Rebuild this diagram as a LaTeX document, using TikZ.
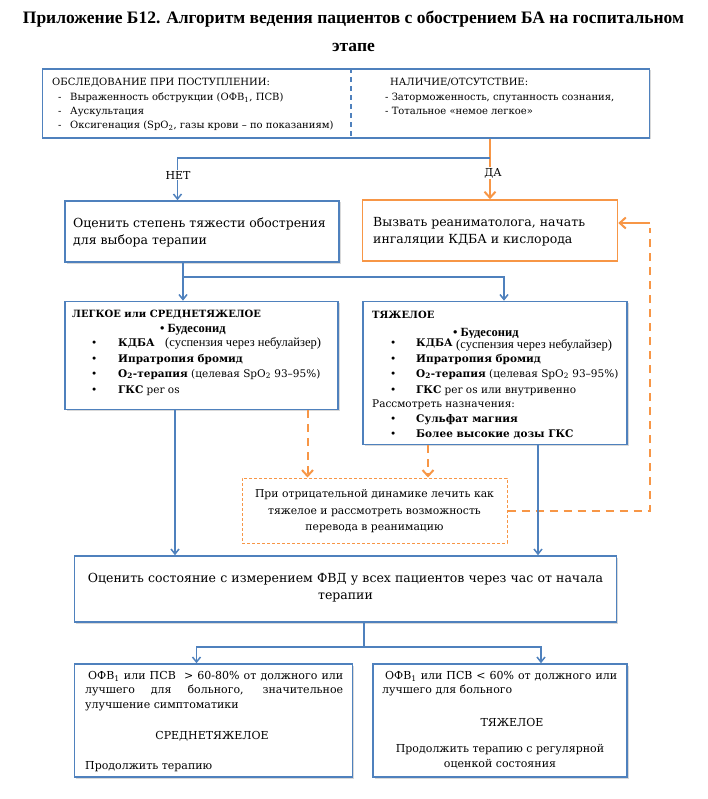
\documentclass[tikz,border=0pt]{standalone}
\usepackage{fontspec}
\setmainfont{DejaVu Serif}
\newfontfamily\timesfont{Liberation Serif}
\usetikzlibrary{arrows.meta,shadows}
\definecolor{boxblue}{RGB}{79,129,189}
\definecolor{boxorange}{RGB}{247,150,70}

\begin{document}
\begin{tikzpicture}[x=1pt,y=-1pt]
  \tikzstyle{box shadow}=[drop shadow={opacity=0.3,shadow xshift=1.5pt,shadow yshift=-1.5pt}]
  \tikzstyle{blue box}=[draw=boxblue,fill=white,line width=1.6pt,inner sep=0pt,box shadow]
  \tikzstyle{orange box}=[draw=boxorange,fill=white,line width=1.6pt,inner sep=0pt]
  \tikzstyle{dashed box}=[draw=boxorange,line width=1pt,dash pattern=on 3pt off 2pt,inner sep=0pt]
  \tikzstyle{blue line}=[draw=boxblue,line width=1.5pt]
  \tikzstyle{blue arrow}=[blue line,-{Straight Barb[length=5pt,width=8pt]}]
  \tikzstyle{orange line}=[draw=boxorange,line width=2pt]
  \tikzstyle{orange arrow}=[orange line,-{Straight Barb[length=6pt,width=11pt]}]
  \tikzstyle{orange dash}=[orange line,dash pattern=on 8pt off 6pt]
  \tikzstyle{small text}=[anchor=base west,inner sep=0pt,font=\fontsize{10}{12}\selectfont]
  \tikzstyle{list text}=[anchor=base west,inner sep=0pt,font=\fontsize{10.5}{13}\selectfont]
  \tikzstyle{box text}=[inner sep=0pt,font=\fontsize{12.5}{17.5}\selectfont]
  \tikzstyle{insert text}=[anchor=base west,inner sep=0pt,font=\timesfont\fontsize{12.5}{14}\selectfont]
  \useasboundingbox (0,0) rectangle (707,799);

  % Titel
  \node[anchor=base,inner sep=0pt,font=\timesfont\bfseries\fontsize{17.5}{20}\selectfont] (title1) at (353.5,24)
    {Приложение Б12. Алгоритм ведения пациентов с обострением БА на госпитальном};
  \node[anchor=base,inner sep=0pt,font=\timesfont\bfseries\fontsize{17.5}{20}\selectfont] (title2) at (353.5,52) {этапе};

  % Obsledovanie
  \node[blue box,minimum width=607pt,minimum height=69pt] (exam) at (346,103.5) {};
  \draw[boxblue,line width=1.2pt,dash pattern=on 5pt off 4pt] (exam.north -| 351,0) -- (exam.south -| 351,0);
  \node[small text] (exam0) at (52,86) {ОБСЛЕДОВАНИЕ ПРИ ПОСТУПЛЕНИИ:};
  \foreach \y/\t in {101/{Выраженность обструкции (ОФВ\textsubscript{1}, ПСВ)},
                     115/{Аускультация},
                     129/{Оксигенация (SpO\textsubscript{2}, газы крови – по показаниям)}}
  {
    \node[small text] (dash\y) at (58,\y) {-};
    \node[small text] (exam\y) at (70,\y) {\t};
  }
  \node[small text] (sign0) at (390,86) {НАЛИЧИЕ/ОТСУТСТВИЕ:};
  \node[small text] (sign1) at (385,101) {- Заторможенность, спутанность сознания,};
  \node[small text] (sign2) at (385,115) {- Тотальное «немое легкое»};

  % Ocenit / Reanimatolog
  \node[blue box,minimum width=274pt,minimum height=61pt] (assess) at (202,231.5) {};
  \node[box text,anchor=west,align=left] (assess text) at (73,232.5)
    {Оценить степень тяжести обострения\\для выбора терапии};
  \node[orange box,minimum width=255pt,minimum height=61pt] (reanim) at (490,230.5) {};
  \node[box text,anchor=west,align=left] (reanim text) at (373,231.5)
    {Вызвать реаниматолога, начать\\ингаляции КДБА и кислорода};

  % DA / NET
  \draw[orange arrow] (exam.south -| reanim.north) -- (reanim.north);
  \node[fill=white,inner sep=1pt,font=\fontsize{11}{13}\selectfont] (yes) at (493,173) {ДА};
  \coordinate (fork) at (490,158);
  \draw[blue arrow] (fork) -| ([xshift=-24.5pt]assess.north);
  \node[fill=white,inner sep=1pt,font=\fontsize{11}{13}\selectfont] (no) at (178,175) {НЕТ};

  % Legkoe / srednetjazheloe
  \node[blue box,minimum width=273pt,minimum height=108pt] (mild) at (201.5,355.5) {};
  \node[list text,font=\bfseries\fontsize{10}{13}\selectfont] (mild0) at (72,317) {ЛЕГКОЕ или СРЕДНЕТЯЖЕЛОЕ};
  \foreach \y/\t in {346/{\bfseries КДБА},
                     362/{\bfseries Ипратропия бромид},
                     377/{\textbf{O\textsubscript{2}-терапия} (целевая SpO\textsubscript{2} 93–95\%)},
                     393/{\textbf{ГКС} per os}}
  {
    \node[list text] (mdot\y) at (91,\y) {•};
    \node[list text] (mild\y) at (118,\y) {\t};
  }
  \node[insert text,font=\timesfont\bfseries\fontsize{12.5}{14}\selectfont] (mbud) at (160,332) {• Будесонид};
  \node[insert text] (msusp) at (165,346) {(суспензия через небулайзер)};

  % Tjazheloe
  \node[blue box,minimum width=264pt,minimum height=143pt] (severe) at (495,373) {};
  \node[list text,font=\bfseries\fontsize{10}{13}\selectfont] (sev0) at (372,318) {ТЯЖЕЛОЕ};
  \foreach \y/\t in {346/{\bfseries КДБА},
                     362/{\bfseries Ипратропия бромид},
                     377/{\textbf{O\textsubscript{2}-терапия} (целевая SpO\textsubscript{2} 93–95\%)},
                     393/{\textbf{ГКС} per os или внутривенно},
                     422/{\bfseries Сульфат магния},
                     437/{\bfseries Более высокие дозы ГКС}}
  {
    \node[list text] (sdot\y) at (390,\y) {•};
    \node[list text] (sev\y) at (416,\y) {\t};
  }
  \node[list text] (sev407) at (372,407) {Рассмотреть назначения:};
  \node[insert text,font=\timesfont\bfseries\fontsize{12.5}{14}\selectfont] (sbud) at (453,336) {• Будесонид};
  \node[insert text,fill=white,inner xsep=2pt,inner ysep=1pt] (ssusp) at (454,348) {(суспензия через небулайзер)};

  % Strelki vniz
  \coordinate (branch) at (183,277);
  \draw[blue arrow] (assess.south -| branch) -- (mild.north -| branch);
  \draw[blue arrow] (branch) -| ([xshift=9pt]severe.north);

  % Otricatelnaja dinamika
  \node[dashed box,minimum width=265pt,minimum height=65pt] (worse) at (374.5,510.5) {};
  \node[box text,align=center,font=\fontsize{10.8}{16.5}\selectfont] (worse text) at (374.5,511.5)
    {При отрицательной динамике лечить как\\тяжелое и рассмотреть возможность\\перевода в реанимацию};
  \draw[orange dash,-{Straight Barb[length=6pt,width=11pt]}] ([xshift=106pt]mild.south) -- ([xshift=106pt]mild.south |- worse.north);
  \draw[orange dash,-{Straight Barb[length=6pt,width=11pt]}] ([xshift=-67pt]severe.south) -- ([xshift=-67pt]severe.south |- worse.north);
  \coordinate (back) at (650,223);
  \draw[orange dash] (worse.east) -| ([yshift=-5pt]back);
  \draw[orange arrow] (back) -- (back -| reanim.east);

  % Ocenit sostojanie
  \node[blue box,minimum width=542pt,minimum height=66pt] (recheck) at (345.5,589) {};
  \node[box text,align=center,text width=540pt] (recheck text) at (345.5,587.5)
    {Оценить состояние с измерением ФВД у всех пациентов через час от начала\\терапии};
  \draw[blue arrow] ([xshift=-26.5pt]mild.south) -- ([xshift=-26.5pt]mild.south |- recheck.north);
  \draw[blue arrow] ([xshift=43pt]severe.south) -- ([xshift=43pt]severe.south |- recheck.north);

  % Rezultat
  \coordinate (split) at (364,647);
  \draw[blue line] (recheck.south -| split) -- (split);
  \node[blue box,minimum width=278pt,minimum height=113pt] (moderate) at (213.5,720.5) {};
  \node[blue box,minimum width=254pt,minimum height=113pt] (heavy) at (500,720.5) {};
  \draw[blue arrow] (split) -| ([xshift=-17pt]moderate.north);
  \draw[blue arrow] (split) -| ([xshift=41pt]heavy.north);

  \node[box text,anchor=north west,text width=258pt,align=justify,font=\fontsize{11}{14.5}\selectfont] (mod text) at (85,671)
    {\hspace*{3pt}ОФВ\textsubscript{1} или ПСВ \ > 60-80\% от должного или\linebreak лучшего для больного, значительное\linebreak улучшение симптоматики};
  \node[box text,font=\fontsize{11}{13}\selectfont] (mod0) at (212,736) {СРЕДНЕТЯЖЕЛОЕ};
  \node[list text,font=\fontsize{11}{13}\selectfont] (mod1) at (85,769) {Продолжить терапию};

  \node[box text,anchor=north west,text width=235pt,align=justify,font=\fontsize{11}{14.5}\selectfont] (heavy text) at (382,671)
    {\hspace*{3pt}ОФВ\textsubscript{1} или ПСВ < 60\% от должного или\linebreak лучшего для больного};
  \node[box text,font=\fontsize{11}{13}\selectfont] (heavy0) at (512,722) {ТЯЖЕЛОЕ};
  \node[box text,align=center,font=\fontsize{11}{15}\selectfont] (heavy1) at (500,757)
    {Продолжить терапию с регулярной\\оценкой состояния};
\end{tikzpicture}
\end{document}
